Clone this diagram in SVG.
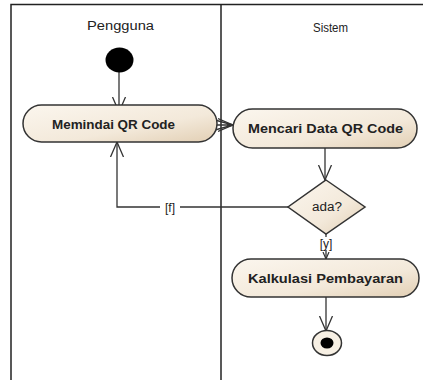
<svg xmlns="http://www.w3.org/2000/svg" width="423" height="380" viewBox="0 0 423 380">
<style>
.lane{stroke:#222;stroke-width:1.5;fill:none}
.act{fill:url(#g);stroke:#333;stroke-width:1.5}
.lbl{font-family:"Liberation Sans",Arial,sans-serif;font-size:12px;fill:#222}
.at{font-family:"Liberation Sans",Arial,sans-serif;font-size:13px;font-weight:bold;fill:#222}
.edge{stroke:#333;stroke-width:1.3;fill:none}
</style>
<defs>
<linearGradient id="g" x1="0" y1="0" x2="1" y2="1">
<stop offset="0" stop-color="#fbf6ee"/>
<stop offset="0.6" stop-color="#f3e9da"/>
<stop offset="1" stop-color="#e2cfb4"/>
</linearGradient>
<marker id="v" markerWidth="16" markerHeight="16" refX="15" refY="8" orient="auto" markerUnits="userSpaceOnUse">
<path d="M0,1.5 L15,8 L0,14.5" fill="none" stroke="#333" stroke-width="1.3"/>
</marker>
<marker id="vs" markerWidth="8" markerHeight="8" refX="7" refY="4" orient="auto" markerUnits="userSpaceOnUse">
<path d="M0,1 L7,4 L0,7" fill="none" stroke="#333" stroke-width="1.2"/>
</marker>
</defs>
<rect width="423" height="380" fill="#fff"/>
<g id="lanes">
<path class="lane" d="M11,380 V4.5 H423"/>
<path class="lane" d="M221,4.5 V380"/>
<text class="lbl" x="120.5" y="30" text-anchor="middle" textLength="67" lengthAdjust="spacingAndGlyphs">Pengguna</text>
<text class="lbl" x="330.5" y="32" text-anchor="middle" textLength="35" lengthAdjust="spacingAndGlyphs">Sistem</text>
</g>
<g id="connectors">
<path class="edge" d="M119,72 V112" marker-end="url(#v)"/>
<path class="edge" d="M215,120 L233,125 M215,130 L233,125 M217,125 H233" marker-end="url(#v)"/>
<path class="edge" d="M325,148 V180" marker-end="url(#v)"/>
<path class="edge" d="M288,207 H117 V142" marker-end="url(#v)"/>
<path class="edge" d="M326,234 V259" marker-end="url(#vs)"/>
<path class="edge" d="M326,297 V331" marker-end="url(#v)"/>
<rect x="160" y="200" width="20" height="14" fill="#fff"/>
<text class="lbl" x="170" y="211.5" text-anchor="middle">[f]</text>
<rect x="316" y="237" width="20" height="13" fill="#fff"/>
<text class="lbl" x="326" y="248" text-anchor="middle">[y]</text>
</g>
<g id="start">
<ellipse cx="119.5" cy="60" rx="14" ry="12.5" fill="#000"/>
</g>
<g id="memindai">
<rect class="act" x="23" y="105" width="194" height="37" rx="18.5"/>
<text class="at" x="113.5" y="128.5" text-anchor="middle" textLength="123" lengthAdjust="spacingAndGlyphs">Memindai QR Code</text>
</g>
<g id="mencari">
<rect class="act" x="233" y="109" width="184" height="39" rx="19.5"/>
<text class="at" x="325.5" y="133" text-anchor="middle" textLength="155" lengthAdjust="spacingAndGlyphs">Mencari Data QR Code</text>
</g>
<g id="ada">
<path class="act" d="M326,180 L365,207 L326,234 L288,207 Z"/>
<text class="lbl" x="327" y="211" text-anchor="middle" textLength="30" lengthAdjust="spacingAndGlyphs">ada?</text>
</g>
<g id="kalkulasi">
<rect class="act" x="232" y="259" width="187" height="38" rx="19"/>
<text class="at" x="325.5" y="283" text-anchor="middle" textLength="155" lengthAdjust="spacingAndGlyphs">Kalkulasi Pembayaran</text>
</g>
<g id="end">
<ellipse cx="327" cy="343" rx="14.5" ry="12.5" fill="#f7f0e4" stroke="#333" stroke-width="1.5"/>
<ellipse cx="327" cy="343" rx="6.5" ry="5.5" fill="#000"/>
</g>
</svg>
